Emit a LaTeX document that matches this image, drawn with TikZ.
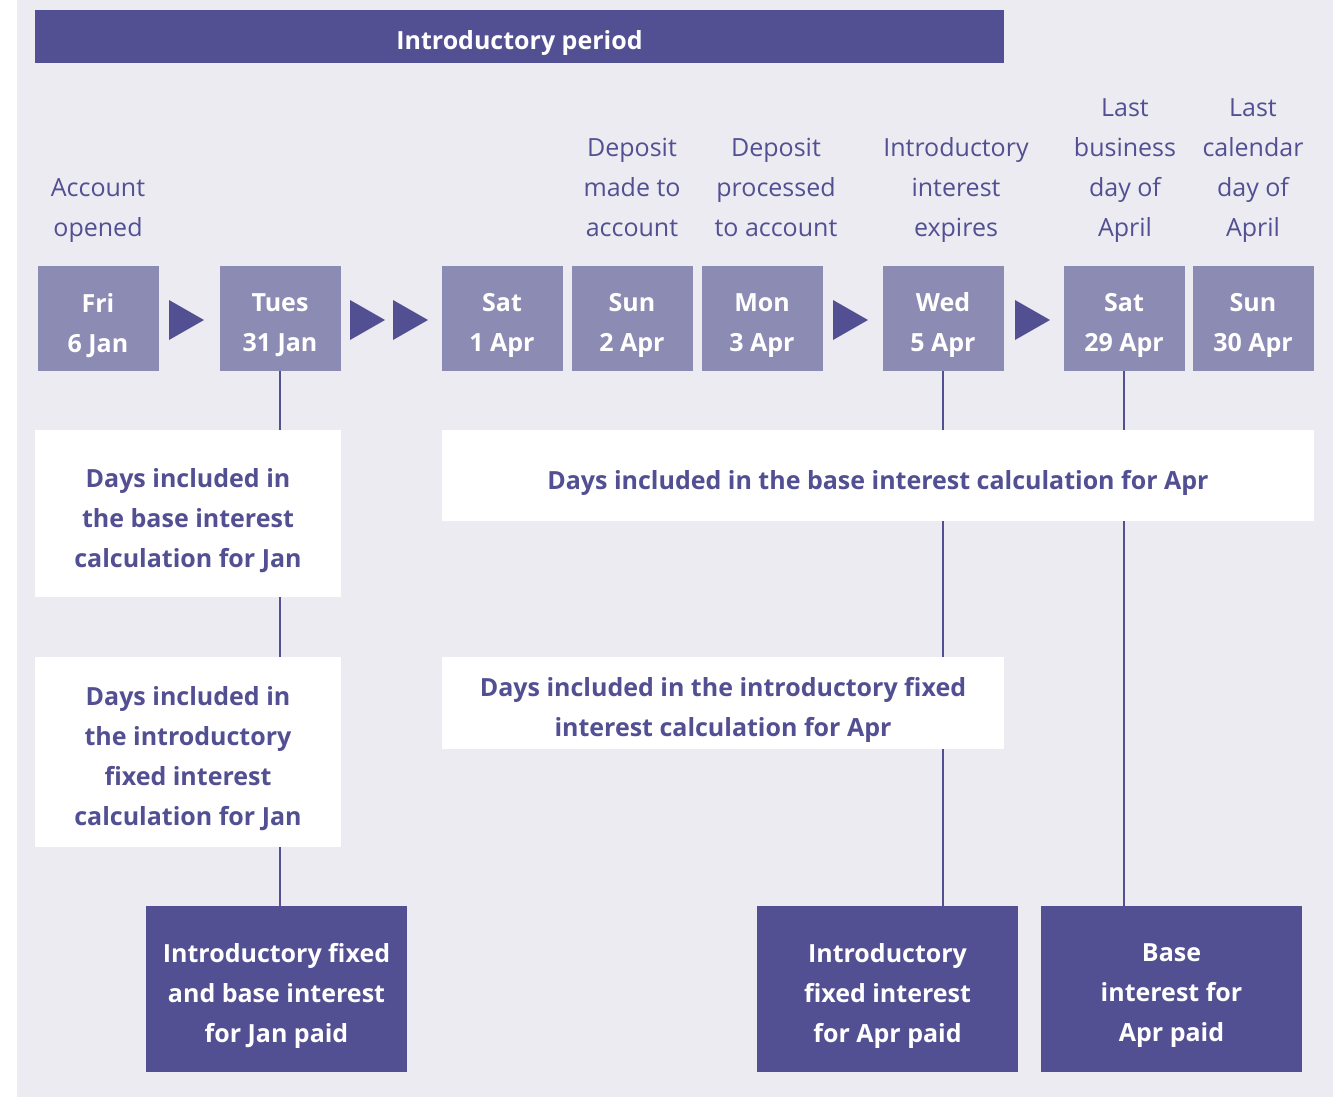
\documentclass[tikz,border=0pt]{standalone}
\usepackage{fontspec}
\setmainfont{Open Sans}
\usetikzlibrary{calc}
\definecolor{dark}{HTML}{524F92}
\definecolor{mid}{HTML}{8B8BB3}
\definecolor{bg}{HTML}{EBEBF1}
\newcommand\mytxt[3]{\node[#1] at ([yshift=-7pt]#2.center) {#3};}
\begin{document}
\begin{tikzpicture}[x=1pt,y=-1pt,
  bfnt/.style={font=\fontsize{25}{40}\selectfont\bfseries},
  datebox/.style={fill=mid,minimum width=121pt,minimum height=105pt,inner sep=0pt},
  datetxt/.style={bfnt,text=white,align=center,inner sep=0pt},
  lbl/.style={font=\fontsize{25}{40}\selectfont,text=dark,align=center,inner sep=0pt},
  wbox/.style={fill=white,inner sep=0pt},
  wtxt/.style={bfnt,text=dark,inner sep=0pt,align=center},
  dbox/.style={fill=dark,inner sep=0pt,minimum width=261pt,minimum height=166pt},
  dtxt/.style={bfnt,text=white,inner sep=0pt,align=center},
  vline/.style={draw=dark,line width=2.5pt},
  tri/.style={fill=dark}]
\useasboundingbox (0,0) rectangle (1342,1097);
\fill[white] (0,0) rectangle (1342,1097);
\fill[bg] (17,0) rectangle (1333,1097);
% top bar
\node[fill=dark,minimum width=969pt,minimum height=53pt,inner sep=0pt] (bar) at (519.5,36.5) {};
\mytxt{dtxt}{bar}{Introductory period}
% date boxes
\node[datebox] (fri) at (98,318.5) {};
\node[datebox] (tue) at (280,318.5) {};
\node[datebox] (sat1) at (502,318.5) {};
\node[datebox] (sun2) at (632,318.5) {};
\node[datebox] (mon3) at (762,318.5) {};
\node[datebox] (wed5) at (943,318.5) {};
\node[datebox] (sat29) at (1124,318.5) {};
\node[datebox] (sun30) at (1253,318.5) {};
\mytxt{datetxt}{fri}{Fri\\6 Jan}
\mytxt{datetxt}{tue}{Tues\\31 Jan}
\mytxt{datetxt}{sat1}{Sat\\1 Apr}
\mytxt{datetxt}{sun2}{Sun\\2 Apr}
\mytxt{datetxt}{mon3}{Mon\\3 Apr}
\mytxt{datetxt}{wed5}{Wed\\5 Apr}
\mytxt{datetxt}{sat29}{Sat\\29 Apr}
\mytxt{datetxt}{sun30}{Sun\\30 Apr}
% triangles
\fill[tri] (169,300) -- (204,320) -- (169,340) -- cycle;
\fill[tri] (350,300) -- (385,320) -- (350,340) -- cycle;
\fill[tri] (393,300) -- (428,320) -- (393,340) -- cycle;
\fill[tri] (833,300) -- (868,320) -- (833,340) -- cycle;
\fill[tri] (1015,300) -- (1050,320) -- (1015,340) -- cycle;
% top labels
\node[lbl,anchor=south] (l1) at (98,249) {Account\\opened\strut};
\node[lbl,anchor=south] (l2) at (632,249) {Deposit\\made to\\account\strut};
\node[lbl,anchor=south] (l3) at (776,249) {Deposit\\processed\\to account\strut};
\node[lbl,anchor=south] (l4) at (956,249) {Introductory\\interest\\expires\strut};
\node[lbl,anchor=south] (l5) at (1125,249) {Last\\business\\day of\\April\strut};
\node[lbl,anchor=south] (l6) at (1253,249) {Last\\calendar\\day of\\April\strut};
% paid boxes
\node[dbox] (jpaid) at (276.5,989) {};
\node[dbox] (ipaid) at (887.5,989) {};
\node[dbox] (bpaid) at (1171.5,989) {};
\mytxt{dtxt}{jpaid}{Introductory fixed\\and base interest\\for Jan paid}
\mytxt{dtxt}{ipaid}{Introductory\\fixed interest\\for Apr paid}
\mytxt{dtxt}{bpaid}{Base\\interest for\\Apr paid}
% vertical connectors
\draw[vline] (tue.south) -- (tue.south |- jpaid.north);
\draw[vline] (wed5.south) -- (wed5.south |- ipaid.north);
\draw[vline] (sat29.south) -- (sat29.south |- bpaid.north);
% white boxes
\node[wbox,minimum width=306pt,minimum height=167pt] (jbase) at (188,513.5) {};
\node[wbox,minimum width=306pt,minimum height=190pt] (jintro) at (188,752) {};
\node[wbox,minimum width=872pt,minimum height=91pt] (abase) at (878,475.5) {};
\node[wbox,minimum width=562pt,minimum height=92pt] (aintro) at (723,703) {};
\mytxt{wtxt}{jbase}{Days included in\\the base interest\\calculation for Jan}
\mytxt{wtxt}{jintro}{Days included in\\the introductory\\fixed interest\\calculation for Jan}
\mytxt{wtxt}{abase}{Days included in the base interest calculation for Apr}
\mytxt{wtxt}{aintro}{Days included in the introductory fixed\\interest calculation for Apr}
\end{tikzpicture}
\end{document}
